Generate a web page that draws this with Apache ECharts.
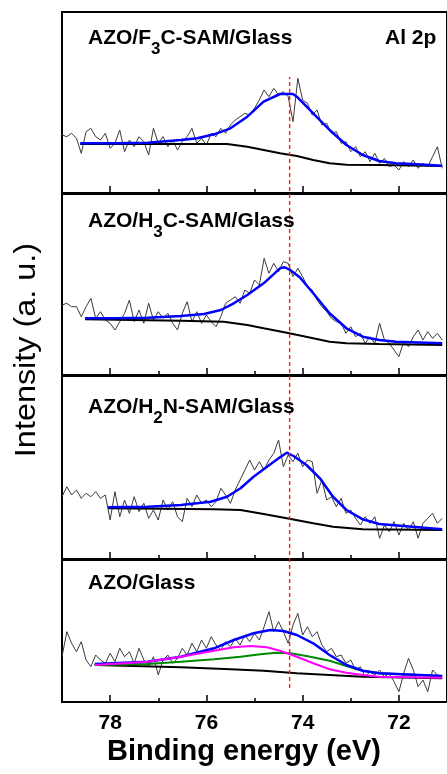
<!DOCTYPE html>
<html>
<head>
<meta charset="utf-8">
<script src="https://cdn.jsdelivr.net/npm/echarts@6/dist/echarts.min.js"></script>
<style>
  html, body { margin: 0; padding: 0; background: #fff; }
  #chart { width: 447px; height: 774px; }
</style>
</head>
<body>
<div id="chart"></div>
<script>
// Binding energy grid of the recorded Al 2p spectra (eV)
const energies = [
  79.0, 78.9, 78.8, 78.7, 78.6, 78.5, 78.4, 78.3, 78.2, 78.1,
  78.0, 77.9, 77.8, 77.7, 77.6, 77.5, 77.4, 77.3, 77.2, 77.1,
  77.0, 76.9, 76.8, 76.7, 76.6, 76.5, 76.4, 76.3, 76.2, 76.1,
  76.0, 75.9, 75.8, 75.7, 75.6, 75.5, 75.4, 75.3, 75.2, 75.1,
  75.0, 74.9, 74.8, 74.7, 74.6, 74.5, 74.4, 74.3, 74.2, 74.1,
  74.0, 73.9, 73.8, 73.7, 73.6, 73.5, 73.4, 73.3, 73.2, 73.1,
  73.0, 72.9, 72.8, 72.7, 72.6, 72.5, 72.4, 72.3, 72.2, 72.1,
  72.0, 71.9, 71.8, 71.7, 71.6, 71.5, 71.4, 71.3, 71.2, 71.1
];

// Raw intensities (a. u.) for each sample
const rawF3C = [
  58, 56.3, 59.7, 54.7, 39.7, 61.3, 64.7, 56.3, 53, 59.7,
  44.7, 49.7, 63, 41.3, 53, 46.3, 56.3, 51.3, 38, 64.7,
  49.7, 56.3, 46.3, 53, 43, 51.3, 56.3, 64.7, 49.7, 54.7,
  48, 59.7, 56.3, 64.7, 59.7, 68, 73, 76.3, 79.7, 78,
  84.7, 93, 103, 96.3, 104.7, 98, 101.3, 96.3, 71.3, 114.7,
  93, 89.7, 78, 83, 68, 69.7, 59.7, 61.3, 49.7, 51.3,
  41.3, 46.3, 36.3, 41.3, 31.3, 39.7, 29.7, 34.7, 26.3, 28,
  23, 31.3, 26.3, 33, 24.7, 29.7, 26.3, 36.3, 46.3, 24.7
];
const rawH3C = [
  70, 71.7, 68.3, 68.3, 58.3, 68.3, 76.7, 56.7, 63.3, 55,
  51.7, 45, 53.3, 61.7, 75, 53.3, 65, 51.7, 71.7, 55,
  63.3, 56.7, 61.7, 51.7, 45, 61.7, 73.3, 53.3, 63.3, 51.7,
  60, 53.3, 48.3, 58.3, 71.7, 75, 78.3, 71.7, 85, 81.7,
  95, 90, 116.7, 101.7, 111.7, 103.3, 113.3, 111.7, 98.3, 106.7,
  98.3, 88.3, 85, 75, 68.3, 63.3, 56.7, 53.3, 51.7, 41.7,
  48.3, 38.3, 41.7, 31.7, 38.3, 31.7, 51.7, 35, 31.7, 25,
  18.3, 33.3, 28.3, 38.3, 45, 35, 43.3, 36.7, 41.7, 35
];
const rawH2N = [
  62.3, 72.3, 64, 69, 60.7, 65.7, 62.3, 67.3, 60.7, 64,
  39, 67.3, 42.3, 59, 45.7, 62.3, 47.3, 55.7, 40.7, 49,
  39, 59, 49, 57.3, 42.3, 37.3, 60.7, 52.3, 64, 55.7,
  59, 52.3, 57.3, 70.7, 64, 55.7, 69, 79, 89, 99,
  89, 97.3, 89, 99, 105.7, 119, 92.3, 104, 97.3, 105.7,
  92.3, 99, 97.3, 65.7, 79, 59, 62.3, 52.3, 60.7, 45.7,
  49, 40.7, 34, 42.3, 35.7, 42.3, 20.7, 34, 27.3, 37.3,
  24, 35.7, 29, 37.3, 20.7, 35.7, 40.7, 45.7, 35.7, 40.7
];
const rawAZO = [
  45.3, 70.3, 58.7, 50.3, 60.3, 42, 35.3, 47, 42, 38.7,
  48.7, 40.3, 53.7, 45.3, 50.3, 38.7, 53.7, 42, 35.3, 45.3,
  27, 42, 47, 38.7, 43.7, 53.7, 47, 58.7, 50.3, 62,
  53.7, 65.3, 57, 52, 60.3, 55.3, 63.7, 57, 67, 60.3,
  68.7, 62, 75.3, 90.3, 70.3, 80.3, 70.3, 58.7, 77, 88.7,
  67, 75.3, 65.3, 70.3, 57, 50.3, 53.7, 45.3, 47, 38.7,
  42, 32, 35.3, 25.3, 30.3, 27, 32, 25.3, 28.7, 20.3,
  10.3, 28.7, 43.7, 32, 15.3, 22, 10.3, 32, 27, 23.7
];

// Fitted envelopes, components and Shirley backgrounds: [eV, intensity]
const fitF3C = [[78.62,49.7],[77.90,49.7],[77.22,50.3],[76.53,53],[76.19,54.7],[75.84,58.7],[75.50,64.7],[75.15,76.3],[74.81,91.3],[74.47,99],[74.20,99],[74.12,96.3],[73.78,79.7],[73.44,63],[73.09,48],[72.75,38],[72.41,32],[72.06,29.7],[71.72,29],[71.10,27.3]];
const bgF3C = [[78.62,49],[77.22,49],[75.57,49],[75.15,46.3],[74.81,43],[74.47,39.7],[74.12,37],[73.78,33],[73.44,29.7],[73.09,28.3],[72.41,28],[71.10,27]];

const fitH3C = [[78.52,56.7],[77.90,56.7],[77.22,57.3],[76.53,59],[76.05,61],[75.70,65],[75.43,71.7],[75.15,80],[74.81,91.7],[74.47,106.7],[74.37,107.7],[74.26,105],[74.06,97.7],[73.78,81.7],[73.44,61.7],[73.09,46.7],[72.75,38.3],[72.41,35],[72.06,33.3],[71.10,31.7]];
const bgH3C = [[78.52,55.7],[76.53,54.3],[75.64,53.3],[75.15,50],[74.81,46.7],[74.33,42.3],[73.78,36.7],[73.44,33.3],[73.09,31.7],[72.41,31],[71.10,30]];

const fitH2N = [[78.04,51.7],[77.22,52.3],[76.53,54],[75.91,57.3],[75.57,62.3],[75.29,70.7],[75.02,82.3],[74.74,92.3],[74.47,101.7],[74.33,106.3],[74.19,103],[73.92,94],[73.64,80.7],[73.37,62.3],[73.09,49],[72.75,39.7],[72.41,35],[71.72,32.3],[71.10,29.7]];
const bgH2N = [[78.04,50.7],[75.84,49.7],[75.29,49],[74.81,45],[74.33,40.7],[73.78,35.7],[73.37,32.3],[72.75,29.7],[71.10,29]];

const fitAZO = [[78.32,38],[77.22,40.3],[76.53,45.3],[75.84,53.7],[75.43,62],[75.02,68.7],[74.67,72],[74.40,71],[74.12,67],[73.78,58.7],[73.44,47],[73.09,37],[72.75,31.3],[72.41,28.7],[71.10,26]];
const compHighAZO = [[78.32,37],[77.22,40.3],[76.53,45.3],[75.84,51.3],[75.43,54.7],[75.08,56],[74.74,54.7],[74.47,51.3],[74.12,45.3],[73.78,38.7],[73.44,32.7],[73.09,29.3],[72.75,27],[72.41,25.3],[71.10,24.3]];
const compLowAZO = [[78.32,37],[77.22,38],[76.53,40.3],[75.84,42.7],[75.29,45.3],[74.88,47.7],[74.54,49.3],[74.26,48.7],[73.92,46],[73.44,41.3],[73.09,36],[72.75,31.3],[72.41,28.7],[71.10,26]];
const bgAZO = [[78.32,37],[76.53,34.7],[75.50,32.7],[74.81,31.3],[74.12,28.7],[73.44,27],[72.75,25.3],[71.10,23.7]];

// Axis ticks (eV) and the reference peak position
const majorTicks = [72, 74, 76, 78];
const minorTicks = [73, 75, 77];
const peakPosition = 74.27;

const FONT = '"Liberation Sans", Arial, sans-serif';

const panels = [
  { raw: rawF3C, fit: fitF3C, bg: bgF3C, top: 12, height: 181 },
  { raw: rawH3C, fit: fitH3C, bg: bgH3C, top: 194, height: 181 },
  { raw: rawH2N, fit: fitH2N, bg: bgH2N, top: 376, height: 183 },
  { raw: rawAZO, fit: fitAZO, bg: bgAZO, top: 560, height: 142,
    extra: [ { data: compLowAZO, color: '#008a00' } ],
    extraTop: [ { data: compHighAZO, color: '#ff00ff' } ] }
];

const GRID_LEFT = 62, GRID_WIDTH = 388;

const grid = [], xAxis = [], yAxis = [], series = [];

function line(data, xi, yi, color, width, z) {
  return { type: 'line', xAxisIndex: xi, yAxisIndex: yi, data: data, showSymbol: false, symbol: 'none',
    lineStyle: { color: color, width: width }, z: z, silent: true, animation: false };
}

panels.forEach(function (p, i) {
  grid.push({ left: GRID_LEFT, width: GRID_WIDTH, top: p.top, height: p.height, show: true,
    borderColor: '#000', borderWidth: 2, backgroundColor: 'transparent' });
  const last = i === panels.length - 1;
  xAxis.push({ gridIndex: i, type: 'value', position: 'bottom', inverse: true, min: 71, max: 79,
    axisLine: { show: false }, splitLine: { show: false },
    axisTick: { show: true, inside: true, length: 7, customValues: majorTicks, lineStyle: { color: '#000', width: 1.5 } },
    axisLabel: { show: last, customValues: majorTicks, margin: 11, color: '#000',
      fontSize: 21, fontWeight: 'bold', fontFamily: FONT } });
  xAxis.push({ gridIndex: i, type: 'value', position: 'bottom', inverse: true, min: 71, max: 79,
    axisLine: { show: false }, splitLine: { show: false },
    axisTick: { show: true, inside: true, length: 4, customValues: minorTicks, lineStyle: { color: '#000', width: 1.5 } },
    axisLabel: { show: false } });
  yAxis.push({ gridIndex: i, type: 'value', min: 0, max: p.height, show: false });
  const xi = i * 2;
  series.push(line(energies.map(function (e, k) { return [e, p.raw[k]]; }), xi, i, '#3a3a3a', 1, 2));
  series.push(line(p.bg, xi, i, '#000', 2, 3));
  (p.extra || []).forEach(function (c) { series.push(line(c.data, xi, i, c.color, 2, 4)); });
  series.push(line(p.fit, xi, i, '#0000ff', 2.5, 5));
  (p.extraTop || []).forEach(function (c) { series.push(line(c.data, xi, i, c.color, 2, 6)); });
});

// Overlay spanning all panels for the dashed peak marker
const oi = panels.length;
grid.push({ left: GRID_LEFT, width: GRID_WIDTH, top: 12, height: 690, show: false });
xAxis.push({ gridIndex: oi, type: 'value', inverse: true, min: 71, max: 79, show: false });
yAxis.push({ gridIndex: oi, type: 'value', min: 0, max: 690, show: false });
series.push({ type: 'line', xAxisIndex: oi * 2, yAxisIndex: oi, symbol: 'none', silent: true, animation: false, z: 7,
  data: [[peakPosition, 14], [peakPosition, 625]],
  lineStyle: { color: '#ff1a1a', width: 1.4, type: [4, 3] } });

function label(x, y, main, sub, rest) {
  const base = { fontSize: 21, fontWeight: 'bold', fontFamily: FONT, fill: '#000', lineHeight: 24, verticalAlign: 'top' };
  return { type: 'text', x: x, y: y, z: 10, silent: true,
    style: { text: '{b|' + main + '}' + (sub ? '{s|' + sub + '}{b|' + rest + '}' : ''),
      rich: { b: base,
        s: { fontSize: 17, fontWeight: 'bold', fontFamily: FONT, fill: '#000', lineHeight: 20, verticalAlign: 'top', padding: [13, 0, 0, 0] } } } };
}

const graphic = [
  label(88, 28, 'AZO/F', '3', 'C-SAM/Glass'),
  label(88, 211, 'AZO/H', '3', 'C-SAM/Glass'),
  label(88, 397, 'AZO/H', '2', 'N-SAM/Glass'),
  label(88, 573, 'AZO/Glass'),
  label(385, 28, 'Al 2p'),
  { type: 'text', x: 27, y: 350, rotation: Math.PI / 2, scaleX: 1.08, scaleY: 1, silent: true,
    style: { text: 'Intensity (a. u.)', fontSize: 30, fontFamily: FONT, fill: '#000', align: 'center', verticalAlign: 'middle' } },
  { type: 'text', x: 244, y: 752, silent: true,
    style: { text: 'Binding energy (eV)', fontSize: 29, fontWeight: 'bold', fontFamily: FONT, fill: '#000', align: 'center', verticalAlign: 'middle' } }
];

const chart = echarts.init(document.getElementById('chart'), null, { renderer: 'canvas' });
chart.setOption({ animation: false, backgroundColor: '#fff', grid: grid, xAxis: xAxis, yAxis: yAxis, series: series, graphic: graphic });
</script>
</body>
</html>
